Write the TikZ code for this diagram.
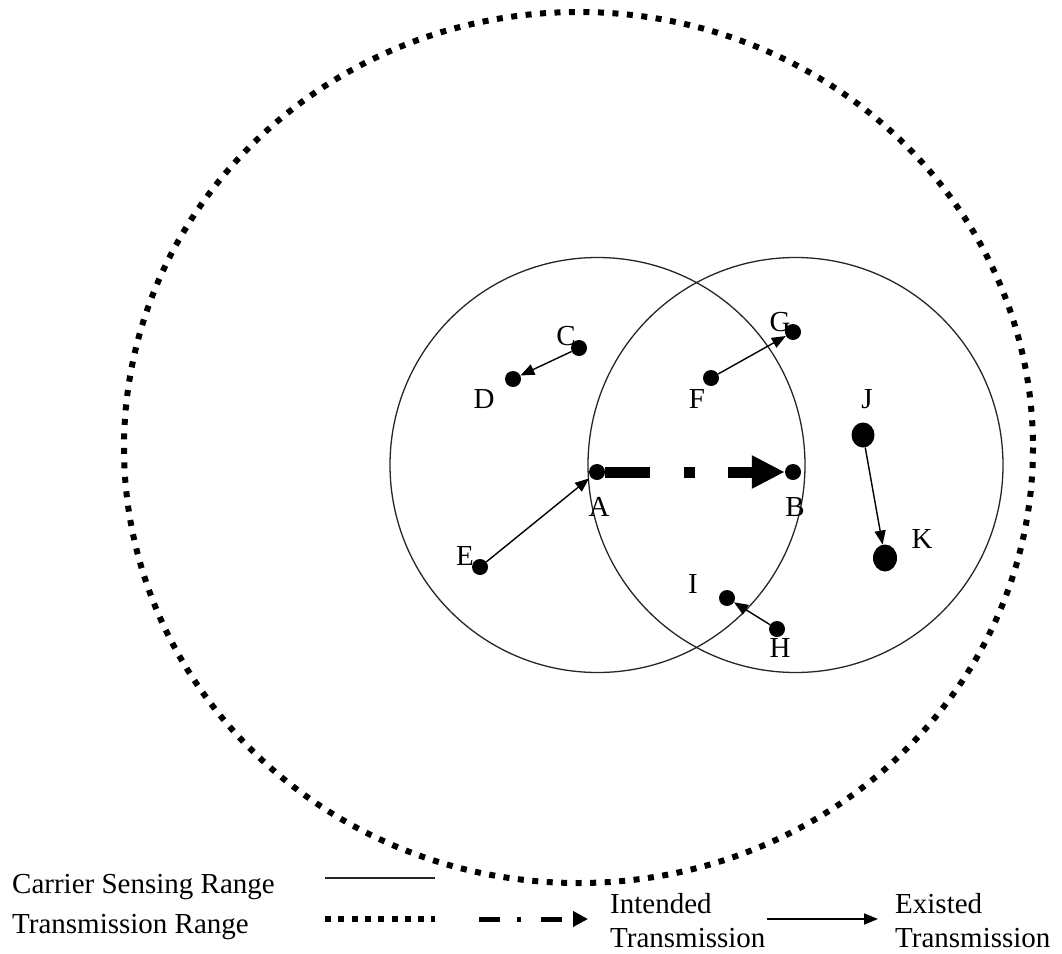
\documentclass[tikz,border=0pt]{standalone}
\usepackage{fontspec}
\setmainfont{Liberation Serif}
\usetikzlibrary{arrows.meta,shapes.geometric}
\begin{document}
\begin{tikzpicture}[x=1pt,y=-1pt,
  dot/.style={circle,fill=black,inner sep=0pt,minimum size=16pt},
  bigdot/.style={ellipse,fill=black,inner sep=0pt},
  lbl/.style={anchor=base,inner sep=0pt,font=\fontsize{29pt}{33pt}\selectfont},
  legtxt/.style={anchor=base west,inner sep=0pt,font=\fontsize{29pt}{33pt}\selectfont},
  csrange/.style={line width=1.3pt,black!85},
  txrange/.style={line width=6pt,dash pattern=on 6pt off 8.5pt},
  existed/.style={line width=1.4pt,-{Triangle[length=14pt,width=11pt]}},
  intended/.style={line width=11pt,dash pattern=on 45pt off 34pt on 11pt off 33pt,
    -{Triangle[length=33pt,width=31pt]}}]
\useasboundingbox (0,0) rectangle (1062,953);

% transmission range (dotted) and the two carrier sensing ranges
\draw[txrange] (578.5,447.5) ellipse [x radius=454.5, y radius=435.5];
\draw[csrange] (597.5,465) circle [radius=207.5];
\draw[csrange] (795.5,465) circle [radius=207.5];

% stations
\node[dot] (A) at (597,472) {};
\node[dot] (B) at (793,472) {};
\node[dot] (C) at (579,348) {};
\node[dot] (D) at (513,379) {};
\node[dot] (E) at (480,567) {};
\node[dot] (F) at (711,378) {};
\node[dot] (G) at (793,332) {};
\node[dot] (H) at (777,629) {};
\node[dot] (I) at (727,598) {};
\node[bigdot,minimum width=23pt,minimum height=25pt] (J) at (863,435) {};
\node[bigdot,minimum width=24pt,minimum height=27pt] (K) at (885,558) {};

% station names
\node[lbl] (lA) at (599,516) {A};
\node[lbl] (lB) at (795,516) {B};
\node[lbl] (lC) at (566,345) {C};
\node[lbl] (lD) at (484,408) {D};
\node[lbl] (lE) at (465,565) {E};
\node[lbl] (lF) at (697,408) {F};
\node[lbl] (lG) at (780,331) {G};
\node[lbl] (lH) at (780,657) {H};
\node[lbl] (lI) at (693,593) {I};
\node[lbl] (lJ) at (867,408) {J};
\node[lbl] (lK) at (922,548) {K};

% ongoing transmissions
\draw[existed] (C) -- (D);
\draw[existed] (F) -- (G);
\draw[existed,shorten >=2pt] (E) -- (A);
\draw[existed] (H) -- (I);
\draw[existed] (J) -- (K);

% intended transmission
\draw[intended] (A) -- (B);

% legend
\node[legtxt] (t1) at (12,893) {Carrier Sensing Range};
\node[legtxt] (t2) at (12,933) {Transmission Range};
\coordinate (cs1) at (325,878);
\coordinate (cs2) at (435,878);
\draw[csrange] (cs1) -- (cs2);
\coordinate (tr1) at (325,919);
\coordinate (tr2) at (435,919);
\draw[line width=6pt,dash pattern=on 6pt off 7.3pt] (tr1) -- (tr2);
\coordinate (in1) at (479,919);
\coordinate (in2) at (588,919);
\draw[line width=5pt,dash pattern=on 21pt off 17pt on 4pt off 20pt,
  -{Triangle[length=15pt,width=15pt]}] (in1) -- (in2);
\node[legtxt] (t3) at (610,913) {Intended};
\node[legtxt] (t4) at (610,947) {Transmission};
\coordinate (ex1) at (767,919);
\coordinate (ex2) at (878,919);
\draw[existed,line width=1.8pt] (ex1) -- (ex2);
\node[legtxt] (t5) at (895,913) {Existed};
\node[legtxt] (t6) at (895,947) {Transmission};
\end{tikzpicture}
\end{document}
